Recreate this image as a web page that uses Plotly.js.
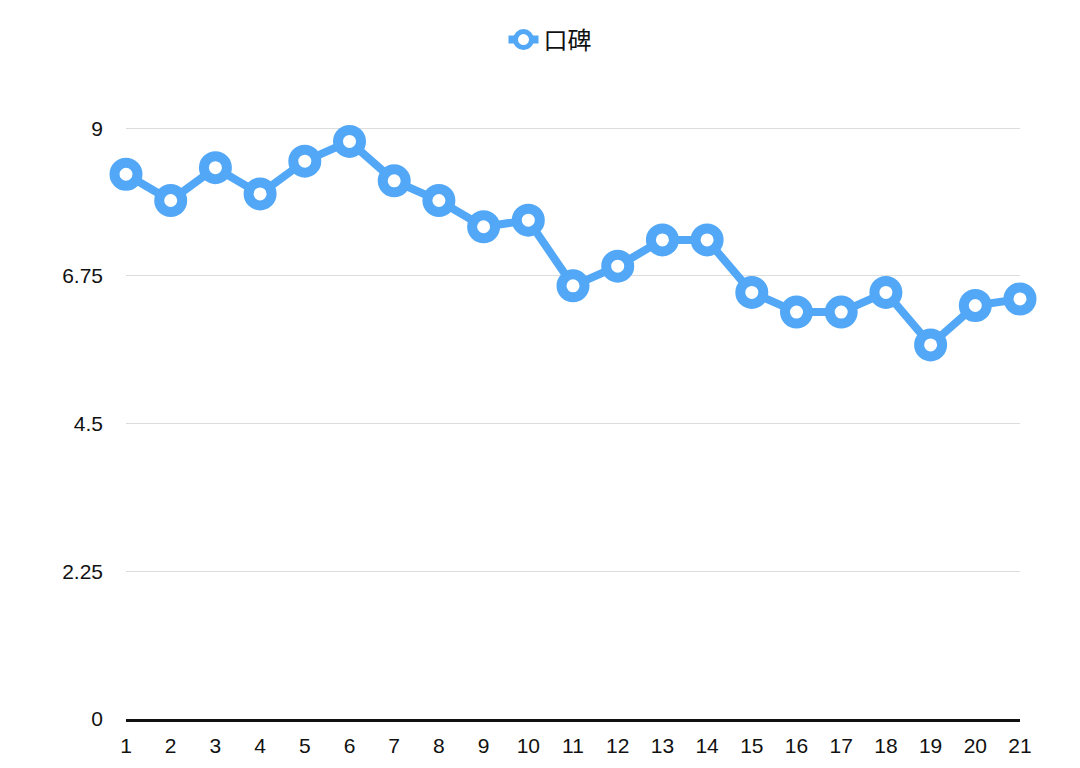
<!DOCTYPE html>
<html>
<head>
<meta charset="utf-8">
<script src="https://cdn.plot.ly/plotly-3.0.1.min.js"></script>
<style>html,body{margin:0;padding:0;background:#fff;}#chart{width:1080px;height:768px;}</style>
</head>
<body>
<div id="chart"></div>
<script>
const categories = [1,2,3,4,5,6,7,8,9,10,11,12,13,14,15,16,17,18,19,20,21];
const values = [8.3,7.9,8.4,8.0,8.5,8.8,8.2,7.9,7.5,7.6,6.6,6.9,7.3,7.3,6.5,6.2,6.2,6.5,5.7,6.3,6.4];
const seriesName = '口碑';
const yTicks = [0,2.25,4.5,6.75,9];
const yTickText = ['0','2.25','4.5','6.75','9'];

const blue = '#52a8f7';
const trace = {
  x: categories,
  y: values,
  name: seriesName,
  type: 'scatter',
  mode: 'lines+markers',
  cliponaxis: false,
  line: {color: blue, width: 8},
  marker: {symbol: 'circle', size: 23, color: '#ffffff', line: {color: blue, width: 10}}
};

const layout = {
  width: 1080, height: 768,
  margin: {l: 126, r: 60, t: 127, b: 49},
  paper_bgcolor: '#fff', plot_bgcolor: '#fff',
  font: {family: 'Liberation Sans, Arial, Noto Sans CJK SC, sans-serif', size: 21, color: '#111'},
  showlegend: true,
  legend: {
    orientation: 'h', x: 0.5 + 10/1080, xanchor: 'center', xref: 'container',
    y: 1 - 40/768, yanchor: 'middle', yref: 'container',
    font: {family: 'Noto Sans CJK SC, sans-serif', size: 24, color: '#111'}
  },
  xaxis: {
    range: [1, 21],
    tickvals: categories,
    ticktext: categories.map(String),
    showgrid: false,
    zeroline: false,
    showline: true, linecolor: '#111', linewidth: 3,
    ticks: '', ticklabelstandoff: 6,
    fixedrange: true
  },
  yaxis: {
    range: [0, 9.02],
    tickvals: yTicks,
    ticktext: yTickText,
    showgrid: true, gridcolor: '#dddddd', gridwidth: 1,
    zeroline: false, showline: false,
    ticks: '', ticklabelstandoff: 22,
    fixedrange: true
  }
};

Plotly.newPlot('chart', [trace], layout, {displayModeBar: false, staticPlot: true});
</script>
</body>
</html>
